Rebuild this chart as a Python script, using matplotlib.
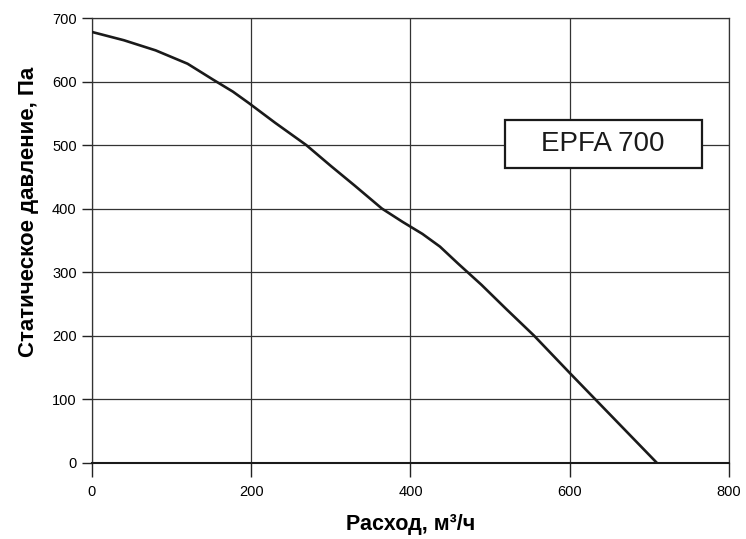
import matplotlib.pyplot as plt
from matplotlib.patches import Rectangle

# данные кривой (расход, м3/ч -> статическое давление, Па)
flow = [0, 40, 80, 120, 152, 177, 197, 230, 269, 300, 330, 364, 390, 415, 437, 460, 489, 520, 555, 600, 709]
pressure = [678, 665, 649, 628, 603, 584, 566, 535, 500, 467, 436, 400, 379, 360, 340, 313, 280, 242, 200, 141, 0]

x_ticks = [0, 200, 400, 600, 800]
y_ticks = [0, 100, 200, 300, 400, 500, 600, 700]
model = "EPFA 700"

plt.rcParams['font.family'] = ['Liberation Sans', 'DejaVu Sans']

fig = plt.figure(figsize=(7.46, 5.39), dpi=100)
ax = fig.add_axes([0.1233, 0.1419, 0.8539, 0.8247])

ax.plot(flow, pressure, color='#1a1a1a', linewidth=1.9, zorder=3)

ax.set_xlim(0, 800)
ax.set_ylim(0, 700)
ax.set_xticks(x_ticks)
ax.set_yticks(y_ticks)
ax.grid(True, color='#333333', linewidth=0.9)
ax.set_axisbelow(True)

for side in ['top', 'right', 'left']:
    ax.spines[side].set_linewidth(0.9)
    ax.spines[side].set_color('#333333')
ax.spines['bottom'].set_linewidth(1.5)
ax.spines['bottom'].set_color('#1a1a1a')

ax.tick_params(axis='x', direction='out', length=10, width=1, pad=6, labelsize=10.5, color='#222222')
ax.tick_params(axis='y', direction='out', length=7, width=1, pad=4, labelsize=10.5, color='#222222')

ax.set_xlabel("Расход, м³/ч", fontsize=15.5, fontweight='bold', labelpad=11)
ax.set_ylabel("Статическое давление, Па", fontsize=16, fontweight='bold')
ax.yaxis.set_label_coords(-0.083, 0.5636)

# рамка с названием модели
box = Rectangle((0.648, 0.6625), 0.309, 0.108, transform=ax.transAxes,
                facecolor='white', edgecolor='#1a1a1a', linewidth=1.6, zorder=4)
ax.add_patch(box)
ax.text(0.8025, 0.7165, model, transform=ax.transAxes, fontsize=20,
        ha='center', va='center', color='#1a1a1a', zorder=5)

fig.savefig("out.png", dpi=100)
